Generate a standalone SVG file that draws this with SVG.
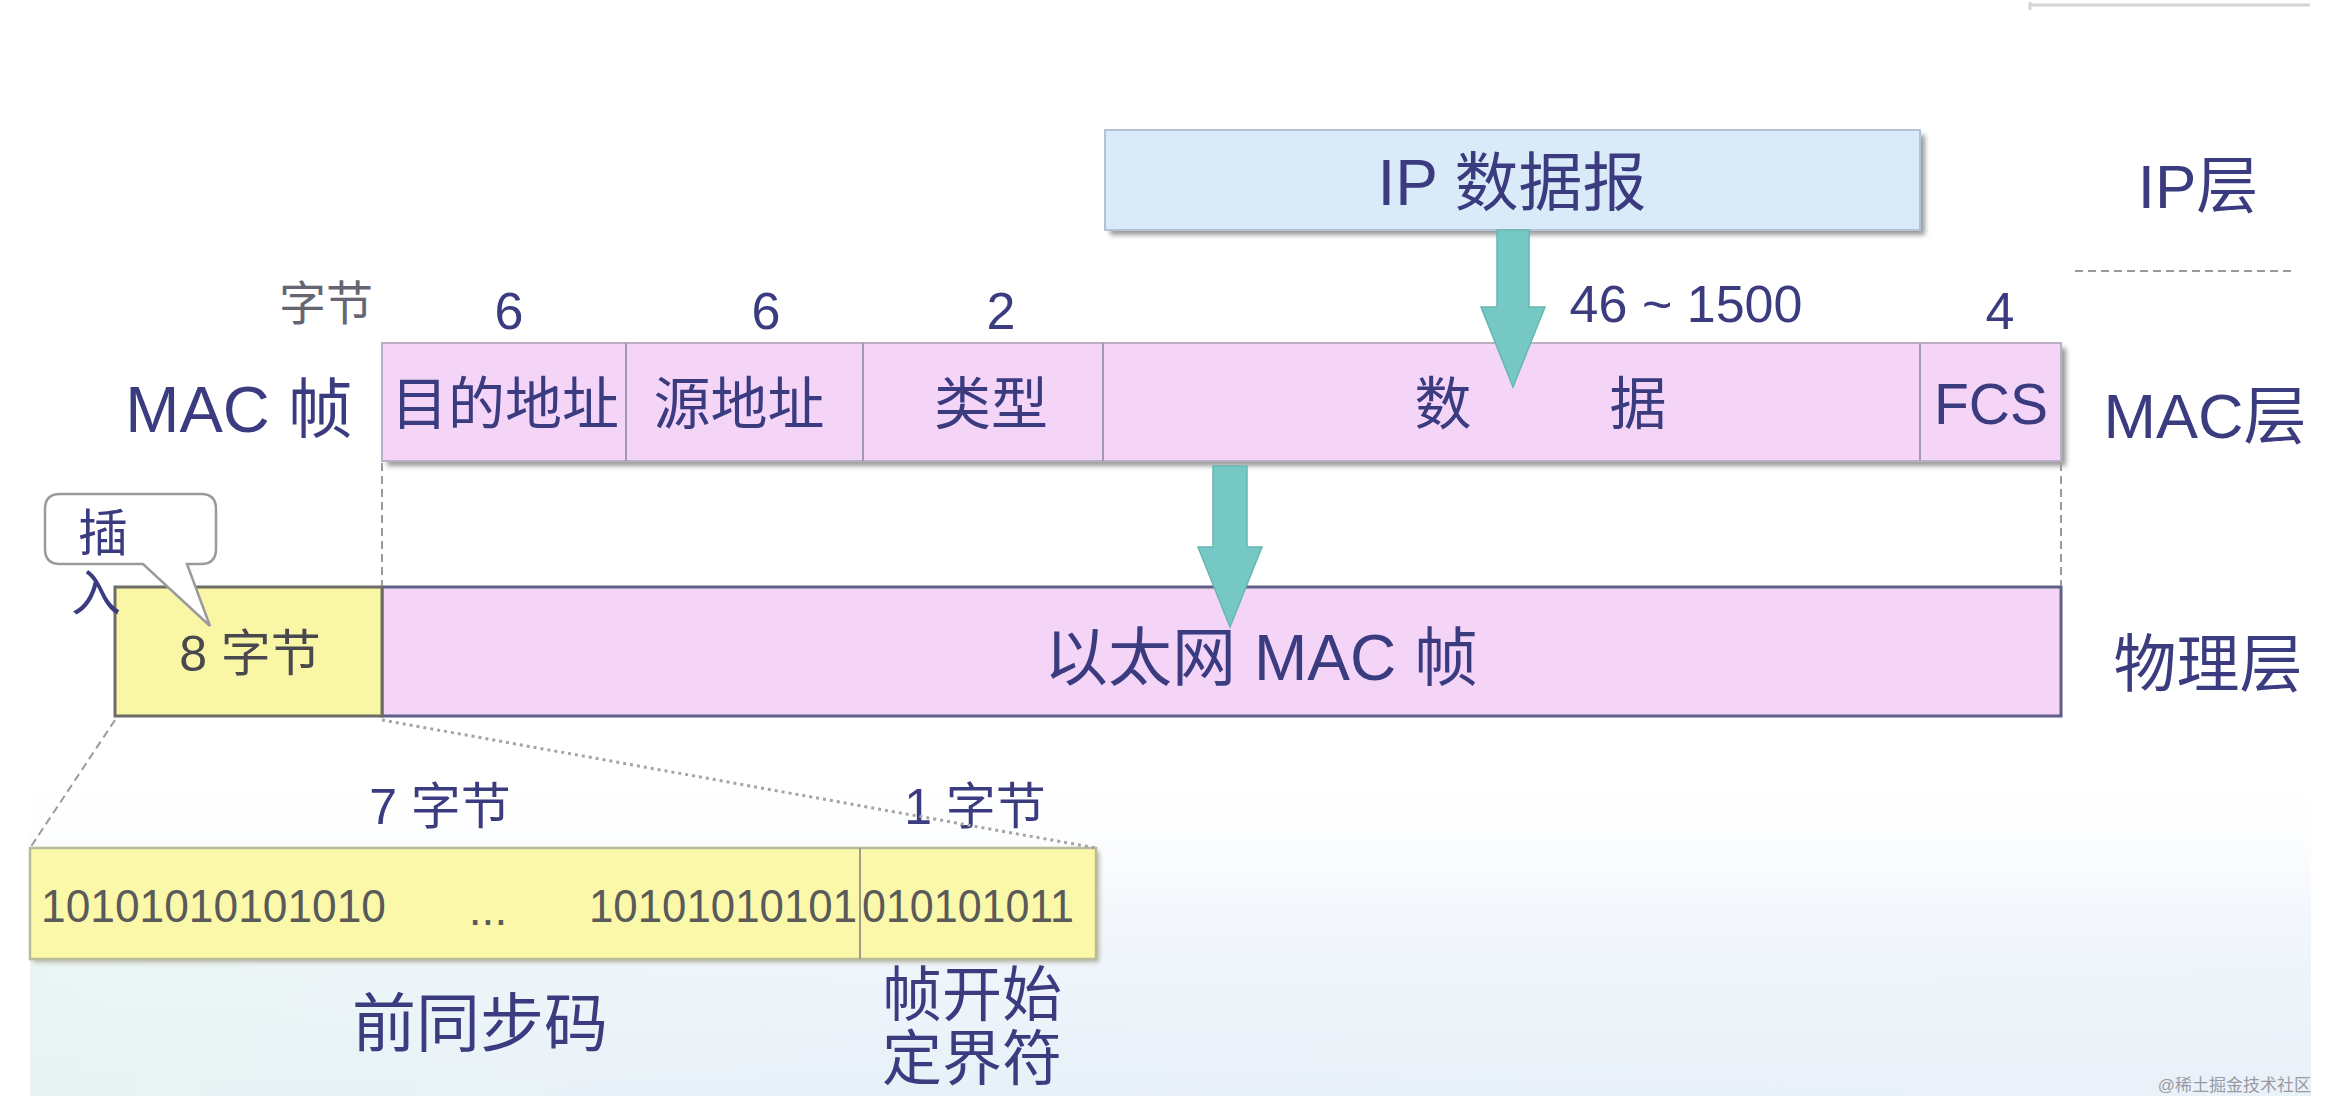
<svg xmlns="http://www.w3.org/2000/svg" width="2338" height="1102" viewBox="0 0 2338 1102">
<defs>
<style>
text{font-family:"Liberation Sans","Noto Sans CJK SC",sans-serif;fill:#3b3b80}
.c{text-anchor:middle}
.gray{fill:#666672}
.bin{fill:#5a5a5a;font-size:46px}
.mac{fill:#f4d5f8;stroke:#b9aec4;stroke-width:2}
.div{stroke:#a398b0;stroke-width:2}
.phys{fill:#f4d5f8;stroke:#5e5e86;stroke-width:3}
.yel{fill:#f9f7a6;stroke:#6d6d66;stroke-width:3}
.arrow{fill:#75c8c3;stroke:#66b7b2;stroke-width:1.5}
.dash{stroke:#9a9a9a;stroke-width:2;stroke-dasharray:8 5;fill:none}
.dot{stroke:#a5a5a5;stroke-width:3;stroke-dasharray:3 4;fill:none}
</style>
<filter id="sh" x="-5%" y="-20%" width="110%" height="150%"><feGaussianBlur stdDeviation="2.5"/></filter>
<linearGradient id="bg" x1="0" y1="0" x2="0" y2="1">
<stop offset="0" stop-color="#ffffff" stop-opacity="0"/>
<stop offset="0.45" stop-color="#f3f7fc"/>
<stop offset="1" stop-color="#e7f0f8"/>
</linearGradient>
<linearGradient id="bg2" x1="0" y1="0" x2="1" y2="0">
<stop offset="0" stop-color="#e6f5ee" stop-opacity="0.6"/>
<stop offset="0.4" stop-color="#eef6fb" stop-opacity="0"/>
<stop offset="1" stop-color="#eef3fa" stop-opacity="0.3"/>
</linearGradient>
</defs>
<rect width="2338" height="1102" fill="#ffffff"/>
<rect x="30" y="760" width="2281" height="336" fill="url(#bg)"/>
<rect x="30" y="960" width="2281" height="136" fill="url(#bg2)"/>
<path d="M2030 2 V10 M2030 5 H2310" stroke="#d4d4d4" stroke-width="3" fill="none"/>

<g id="ip-layer">
<rect x="1110" y="135" width="815" height="100" fill="#9a9a9a" filter="url(#sh)"/>
<rect x="1105" y="130" width="815" height="100" fill="#d9ebf8" stroke="#b2c4d4" stroke-width="2"/>
<text x="1512" y="205" class="c" font-size="64">IP 数据报</text>
<text x="2198" y="208" class="c" font-size="62">IP层</text>
<line x1="2075" y1="271" x2="2293" y2="271" class="dash"/>
</g>

<g id="mac-frame">
<rect x="387" y="348" width="1679" height="118" fill="#9a9a9a" filter="url(#sh)"/>
<rect x="382" y="343" width="1679" height="118" class="mac"/>
<line x1="626" y1="343" x2="626" y2="461" class="div"/>
<line x1="863" y1="343" x2="863" y2="461" class="div"/>
<line x1="1103" y1="343" x2="1103" y2="461" class="div"/>
<line x1="1920" y1="343" x2="1920" y2="461" class="div"/>
<text x="373" y="320" font-size="47" class="gray" text-anchor="end">字节</text>
<text x="509" y="329" class="c" font-size="52">6</text>
<text x="766" y="329" class="c" font-size="52">6</text>
<text x="1001" y="329" class="c" font-size="52">2</text>
<text x="1686" y="322" class="c" font-size="52">46 ~ 1500</text>
<text x="2000" y="329" class="c" font-size="52">4</text>
<text x="239" y="432" class="c" font-size="65">MAC 帧</text>
<text x="505" y="424" class="c" font-size="57">目的地址</text>
<text x="739" y="424" class="c" font-size="57">源地址</text>
<text x="991" y="424" class="c" font-size="57">类型</text>
<text x="1443" y="424" class="c" font-size="57">数</text>
<text x="1638" y="424" class="c" font-size="57">据</text>
<text x="1991" y="424" class="c" font-size="57">FCS</text>
<text x="2205" y="438" class="c" font-size="63">MAC层</text>
</g>

<g id="physical">
<rect x="382" y="587" width="1679" height="129" class="phys"/>
<rect x="115" y="587" width="267" height="129" class="yel"/>
<text x="250" y="671" class="c" font-size="50" style="fill:#48484e">8 字节</text>
<text x="1261" y="680" class="c" font-size="64">以太网 MAC 帧</text>
<text x="2208" y="686" class="c" font-size="63">物理层</text>
</g>

<g id="callout">
<path d="M60 494 H201 Q216 494 216 509 V549 Q216 564 201 564 H187 L210 626 L143 564 H60 Q45 564 45 549 V509 Q45 494 60 494 Z" fill="#ffffff" stroke="#9a9a9a" stroke-width="2.5"/>
<text x="103" y="551" class="c" font-size="50">插</text>
<text x="96" y="611" class="c" font-size="50">入</text>
</g>

<g id="preamble">
<rect x="33" y="851" width="1066" height="111" fill="#b0b0a0" filter="url(#sh)"/>
<rect x="30" y="848" width="1066" height="111" fill="#fbf9a9" stroke="#b8bb9c" stroke-width="2.5"/>
<line x1="860" y1="848" x2="860" y2="959" stroke="#9c9c8c" stroke-width="2"/>
<text x="440" y="824" class="c" font-size="50">7 字节</text>
<text x="975" y="824" class="c" font-size="50">1 字节</text>
<text x="41" y="922" class="bin" textLength="345" lengthAdjust="spacingAndGlyphs">10101010101010</text>
<text x="488" y="925" class="c bin">...</text>
<text x="589" y="922" class="bin" textLength="268" lengthAdjust="spacingAndGlyphs">10101010101</text>
<text x="862" y="922" class="bin" textLength="212" lengthAdjust="spacingAndGlyphs">010101011</text>
<text x="480" y="1046" class="c" font-size="64">前同步码</text>
<text x="972" y="1016" class="c" font-size="60">帧开始</text>
<text x="972" y="1080" class="c" font-size="60">定界符</text>
</g>

<g id="connectors">
<polygon class="arrow" points="1497,230 1529,230 1529,307 1545,307 1513,387 1481,307 1497,307"/>
<polygon class="arrow" points="1213,466 1247,466 1247,547 1262,547 1230,627 1198,547 1213,547"/>
<line x1="382" y1="463" x2="382" y2="586" class="dash"/>
<line x1="2061" y1="463" x2="2061" y2="586" class="dash"/>
<line x1="115" y1="720" x2="30" y2="848" class="dash"/>
<line x1="382" y1="720" x2="1096" y2="848" class="dot"/>
</g>

<text x="2311" y="1091" font-size="17" text-anchor="end" style="fill:#9a9aa2">@稀土掘金技术社区</text>
</svg>
